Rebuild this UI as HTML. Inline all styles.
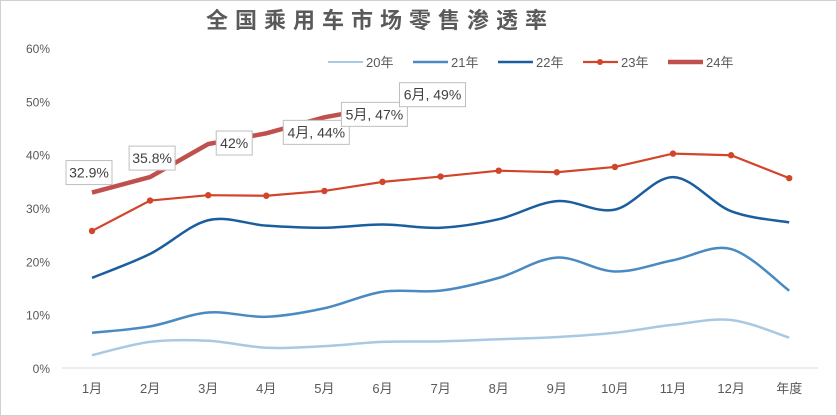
<!DOCTYPE html>
<html><head><meta charset="utf-8">
<style>
body{margin:0;background:#fff;}
svg{display:block;font-family:"Liberation Sans","Noto Sans CJK SC",sans-serif;}
</style></head>
<body>
<svg id="chart" width="837" height="416" viewBox="0 0 837 416">
<rect x="0.5" y="0.5" width="836" height="415" fill="#fff" stroke="#d0d0d0"/>
<text x="380" y="28" text-anchor="middle" font-size="22" font-weight="bold" fill="#5a5a5a" letter-spacing="7" font-family="'Liberation Sans','Noto Sans CJK SC',sans-serif">全国乘用车市场零售渗透率</text>
<g id="axes"></g>
<g id="series"></g>
<g id="labels"></g>
<g id="legend"></g>
</svg>
<script>
const categories=["1月","2月","3月","4月","5月","6月","7月","8月","9月","10月","11月","12月","年度"];
const yTicks=[0,10,20,30,40,50,60];
const s20=[2.4,4.9,5.1,3.8,4.1,4.9,5.0,5.4,5.8,6.6,8.1,9.0,5.7];
const s21=[6.6,7.8,10.4,9.6,11.2,14.3,14.5,16.9,20.7,18.1,20.2,22.3,14.5];
const s22=[16.9,21.4,27.7,26.7,26.3,26.9,26.3,27.9,31.3,29.7,35.8,29.4,27.3];
const s23=[25.7,31.4,32.4,32.3,33.2,34.9,35.9,37.0,36.7,37.7,40.2,39.9,35.6];
const s24=[32.9,35.8,42,44,47,49];
const s24Labels=["32.9%","35.8%","42%","4月, 44%","5月, 47%","6月, 49%"];
const seriesNames=["20年","21年","22年","23年","24年"];

const NS="http://www.w3.org/2000/svg";
const X=i=>92+i*58.1;
const Y=v=>368-v*5.333;
function mk(tag,attrs,parent){const e=document.createElementNS(NS,tag);for(const k in attrs)e.setAttribute(k,attrs[k]);parent.appendChild(e);return e;}
const axes=document.getElementById('axes');
const ax=mk('line',{x1:62,x2:818,y1:368,y2:368,stroke:'#d9d9d9','stroke-width':1},axes);


yTicks.forEach(t=>{const e=mk('text',{x:50,y:Y(t)+5,'text-anchor':'end','font-size':12,fill:'#595959'},axes);e.textContent=t+'%';

});
categories.forEach((c,i)=>{const e=mk('text',{x:X(i),y:393,'text-anchor':'middle','font-size':13,fill:'#595959'},axes);e.textContent=c;

});

function smooth(vals){const p=vals.map((v,i)=>[X(i),Y(v)]);let d='M'+p[0][0]+','+p[0][1];
for(let i=0;i<p.length-1;i++){const p0=p[i-1]||p[i],p1=p[i],p2=p[i+1],p3=p[i+2]||p2;const t=6;
d+=` C${p1[0]+(p2[0]-p0[0])/t},${p1[1]+(p2[1]-p0[1])/t} ${p2[0]-(p3[0]-p1[0])/t},${p2[1]-(p3[1]-p1[1])/t} ${p2[0]},${p2[1]}`;}return d;}
function straight(vals){return vals.map((v,i)=>(i?'L':'M')+X(i)+','+Y(v)).join(' ');}
const sg=document.getElementById('series');
const p20=mk('path',{d:smooth(s20),fill:'none',stroke:'#a9c9e3','stroke-width':2.5},sg);


const p21=mk('path',{d:smooth(s21),fill:'none',stroke:'#4a8ac2','stroke-width':2.5},sg);


const p22=mk('path',{d:smooth(s22),fill:'none',stroke:'#1a5e9e','stroke-width':2.5},sg);


const p23=mk('path',{d:straight(s23),fill:'none',stroke:'#d2452a','stroke-width':2.2},sg);


s23.forEach((v,i)=>{const c=mk('circle',{cx:X(i),cy:Y(v),r:3.2,fill:'#d2452a'},sg);

});
const p24=mk('path',{d:straight(s24),fill:'none',stroke:'#c0504d','stroke-width':4.5},sg);



const lg=document.getElementById('labels');
const offs=[[-26,-32],[-21,-31],[8,-13],[17,-13],[17,-15],[17,-24]];
s24.forEach((v,i)=>{const px=X(i),py=Y(v);const w=s24Labels[i].length>5?66:(s24Labels[i].length>3?46:36);
const bx=px+offs[i][0],by=py+offs[i][1];
const g=mk('g',{},lg);


mk('rect',{x:bx,y:by,width:w,height:24,fill:'#fff',stroke:'#bfbfbf'},g);
const t=mk('text',{x:bx+w/2,y:by+17,'text-anchor':'middle','font-size':14,fill:'#404040'},g);t.textContent=s24Labels[i];});

const leg=document.getElementById('legend');
const lc=['#a9c9e3','#4a8ac2','#1a5e9e','#d2452a','#c0504d'],lw=[2,2.5,2.5,2.2,4.5];
seriesNames.forEach((n,i)=>{const x=328+i*85;const g=mk('g',{},leg);


mk('line',{x1:x,x2:x+35,y1:62,y2:62,stroke:lc[i],'stroke-width':lw[i]},g);
if(i==3)mk('circle',{cx:x+17,cy:62,r:3,fill:lc[i]},g);
const t=mk('text',{x:x+38,y:67,'font-size':13,fill:'#595959'},g);t.textContent=n;});
</script>
</body></html>
